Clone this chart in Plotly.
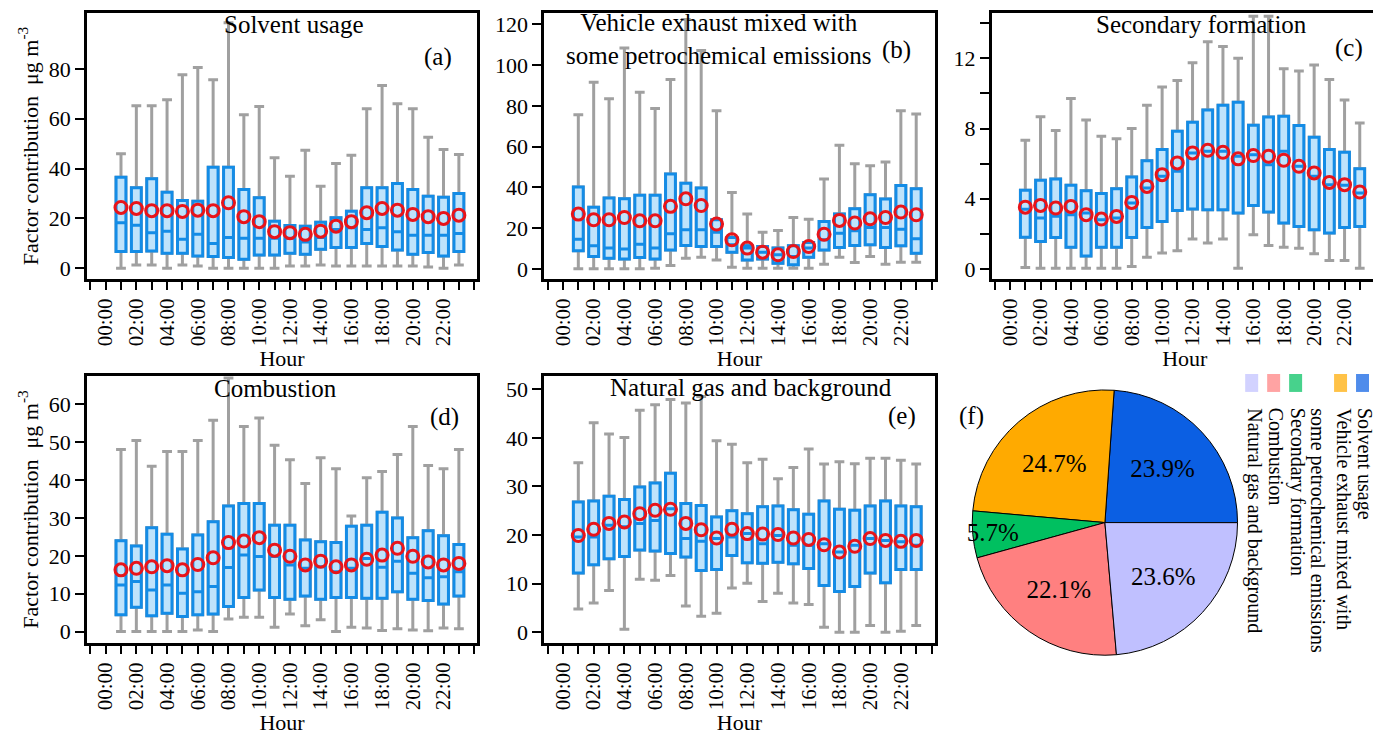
import plotly.graph_objects as go

# ---------------- data ----------------
hours = list(range(1, 24))
tick_vals = [0, 2, 4, 6, 8, 10, 12, 14, 16, 18, 20, 22]
tick_labels = ["00:00", "02:00", "04:00", "06:00", "08:00", "10:00",
               "12:00", "14:00", "16:00", "18:00", "20:00", "22:00"]

# (a) Solvent usage
a_hi = [45.9, 65.2, 65.2, 67.6, 77.6, 80.5, 75.6, 98.5, 61.6, 64.9, 44.3, 36.9, 47.3, 32.9, 42.0, 45.3, 64.0, 73.3, 66.0, 64.0, 52.5, 47.6, 45.6]
a_q3 = [36.5, 32.3, 35.9, 30.5, 27.2, 26.9, 40.5, 40.5, 31.6, 28.3, 18.9, 17.2, 16.9, 18.5, 20.3, 22.9, 32.3, 32.3, 34.0, 31.6, 28.9, 28.5, 30.0]
a_med = [18.3, 17.3, 14.3, 14.9, 11.6, 13.6, 9.9, 12.3, 12.0, 12.0, 12.0, 12.0, 10.5, 12.3, 15.6, 16.3, 15.6, 16.3, 14.7, 13.2, 13.2, 13.2, 14.0]
a_q1 = [6.7, 6.7, 6.9, 6.0, 6.0, 4.9, 4.7, 4.3, 3.6, 5.3, 5.3, 6.0, 5.6, 7.6, 8.3, 8.3, 9.9, 8.7, 7.3, 5.6, 6.3, 4.9, 6.7]
a_lo = [0.0, 1.3, 1.3, 0.0, 1.3, 0.9, 0.0, 0.0, 0.0, 0.0, 0.0, 0.9, 0.9, 1.3, 0.9, 0.9, 0.9, 0.9, 0.9, 0.9, 0.5, 0.0, 1.3]
a_mean = [24.4, 24.0, 23.1, 23.1, 22.8, 23.3, 23.1, 26.3, 20.7, 18.7, 14.7, 14.3, 13.6, 14.9, 16.9, 18.7, 22.3, 24.0, 23.3, 21.6, 20.7, 20.0, 21.3]

# (b) Vehicle exhaust
b_hi = [75.7, 91.6, 83.6, 108.5, 86.7, 78.7, 93.0, 122.5, 107.2, 77.7, 37.5, 26.9, 18.0, 18.9, 25.2, 24.4, 44.1, 60.7, 51.6, 50.7, 52.5, 77.7, 76.0]
b_q3 = [40.2, 30.3, 34.8, 34.4, 36.1, 36.1, 46.6, 42.1, 39.7, 24.1, 15.4, 11.3, 11.0, 10.2, 11.3, 13.0, 23.3, 26.9, 29.5, 36.4, 34.3, 41.0, 39.3]
b_med = [14.6, 11.3, 10.2, 9.7, 12.1, 10.2, 17.2, 19.2, 19.2, 18.0, 11.8, 10.2, 8.2, 6.9, 6.1, 10.2, 14.3, 17.5, 18.7, 20.3, 20.3, 19.5, 14.8]
b_q1 = [8.9, 6.1, 5.2, 4.8, 5.6, 4.9, 9.3, 11.5, 11.0, 11.0, 8.2, 4.4, 4.8, 2.8, 2.0, 5.7, 9.3, 10.5, 11.5, 11.8, 10.5, 11.3, 7.7]
b_lo = [0.0, 0.0, 0.0, 0.0, 0.0, 0.3, 1.6, 5.2, 5.7, 4.4, 0.8, 0.3, 0.3, 0.3, 0.3, 0.3, 2.3, 5.7, 3.1, 6.1, 2.3, 3.3, 3.3]
b_mean = [26.9, 24.1, 24.1, 25.2, 23.6, 23.6, 30.7, 34.4, 31.1, 22.0, 14.3, 10.2, 8.2, 6.9, 8.5, 11.0, 17.0, 23.8, 22.5, 24.6, 25.2, 27.9, 26.6]

# (c) Secondary formation
c_hi = [7.33, 8.67, 7.89, 9.71, 8.48, 7.56, 7.41, 8.0, 9.33, 10.36, 10.74, 11.75, 12.95, 12.67, 12.0, 14.4, 14.4, 11.41, 11.28, 11.62, 10.8, 9.62, 8.32]
c_q3 = [4.48, 5.05, 5.12, 4.76, 4.46, 4.29, 4.57, 5.24, 6.17, 6.8, 7.85, 8.36, 9.05, 9.33, 9.5, 8.19, 8.65, 8.7, 8.17, 7.5, 6.8, 6.65, 5.71]
c_med = [3.4, 2.9, 3.0, 3.09, 3.18, 2.8, 2.9, 3.75, 4.61, 5.28, 5.56, 6.61, 6.7, 6.7, 6.42, 6.51, 5.94, 6.7, 5.85, 5.28, 4.8, 4.76, 4.32]
c_q1 = [1.81, 1.56, 1.79, 1.24, 0.74, 1.24, 1.24, 1.79, 2.36, 2.7, 3.33, 3.41, 3.37, 3.37, 3.18, 3.62, 3.24, 2.61, 2.42, 2.23, 2.04, 2.36, 2.42]
c_lo = [0.08, 0.04, 0.04, 0.04, 0.04, 0.04, 0.04, 0.13, 0.67, 0.9, 1.03, 1.7, 1.47, 1.7, 0.04, 1.94, 1.33, 1.24, 1.18, 0.86, 0.48, 0.48, 0.04]
c_mean = [3.52, 3.62, 3.47, 3.56, 3.09, 2.84, 2.99, 3.79, 4.7, 5.37, 6.04, 6.61, 6.76, 6.65, 6.27, 6.46, 6.42, 6.19, 5.85, 5.47, 4.93, 4.8, 4.38]

# (d) Combustion
d_hi = [48.1, 50.5, 43.7, 47.6, 47.6, 50.5, 55.8, 67.0, 54.2, 56.4, 49.2, 45.4, 39.1, 45.9, 43.0, 30.5, 40.6, 42.3, 46.8, 54.2, 43.9, 43.0, 48.1]
d_q3 = [24.0, 22.6, 27.4, 25.7, 21.8, 25.5, 29.0, 33.2, 33.8, 33.8, 28.1, 28.1, 24.2, 23.7, 23.5, 27.8, 28.1, 31.5, 30.0, 24.8, 26.6, 25.3, 23.0]
d_med = [12.3, 13.2, 11.0, 12.3, 10.1, 10.5, 11.9, 16.9, 20.2, 19.8, 19.8, 17.6, 16.7, 17.1, 15.8, 16.7, 19.3, 17.0, 18.6, 15.4, 14.2, 14.5, 15.8]
d_q1 = [4.4, 6.4, 4.2, 4.8, 4.0, 4.4, 4.6, 6.6, 9.0, 11.0, 9.0, 8.5, 9.4, 8.5, 9.0, 9.0, 8.8, 8.8, 10.5, 8.5, 8.2, 7.3, 9.4]
d_lo = [0.0, 0.0, 0.0, 0.0, 0.0, 0.4, 0.0, 3.3, 3.8, 3.8, 1.1, 4.6, 1.5, 3.1, 0.0, 1.1, 0.9, 0.3, 0.7, 0.4, 0.2, 0.9, 0.7]
d_mean = [16.3, 16.7, 17.1, 17.4, 16.3, 17.7, 19.5, 23.5, 23.9, 24.8, 21.5, 19.9, 17.6, 18.6, 17.1, 17.6, 19.1, 20.2, 22.0, 19.9, 18.4, 17.6, 18.0]

# (e) Natural gas and background
e_hi = [34.9, 43.1, 40.8, 40.1, 45.7, 46.8, 47.9, 47.2, 48.5, 39.4, 38.7, 34.9, 35.6, 31.6, 33.9, 37.7, 34.6, 35.1, 34.7, 35.8, 35.8, 35.4, 34.6]
e_q3 = [26.8, 27.0, 28.0, 27.3, 29.9, 30.7, 32.7, 26.5, 26.1, 23.7, 25.0, 24.4, 25.8, 26.0, 25.2, 24.3, 27.0, 25.3, 25.1, 26.0, 27.0, 26.0, 25.8]
e_med = [19.6, 19.6, 22.0, 21.7, 22.4, 23.0, 25.4, 19.3, 18.7, 19.3, 19.6, 20.3, 18.2, 19.9, 17.9, 17.9, 18.2, 16.5, 17.9, 19.3, 18.9, 18.6, 17.9]
e_q1 = [12.2, 13.9, 15.1, 15.6, 16.9, 16.7, 16.2, 15.5, 12.7, 12.9, 15.8, 14.3, 14.2, 14.4, 14.1, 13.1, 9.6, 8.4, 9.4, 12.2, 10.2, 12.9, 12.9]
e_lo = [4.8, 6.0, 8.6, 0.6, 10.9, 10.7, 11.7, 5.4, 3.3, 3.9, 9.1, 10.1, 6.3, 8.0, 6.0, 5.7, 1.0, 0.0, 0.0, 1.4, 0.0, 0.2, 1.4]
e_mean = [19.9, 21.2, 22.4, 22.7, 24.4, 25.1, 25.3, 22.4, 21.1, 19.4, 21.2, 20.3, 20.2, 20.1, 19.4, 19.1, 18.0, 16.5, 17.7, 19.3, 18.9, 18.7, 18.9]

# (f) pie
pie_labels = ["Solvent usage", "Vehicle exhaust mixed with<br>some petrochemical emissions",
              "Secondary formation", "Combustion", "Natural gas and background"]
pie_values = [23.9, 24.7, 5.7, 22.1, 23.6]
pie_colors = ["#0b5fe3", "#ffaa00", "#00c060", "#ff8080", "#c0c0ff"]

panel_titles = ["Solvent usage", "Vehicle exhaust mixed with<br>some petrochemical emissions",
                "Secondary formation", "Combustion", "Natural gas and background"]
panel_letters = ["(a)", "(b)", "(c)", "(d)", "(e)", "(f)"]

# ---------------- style ----------------
# the page body adds an 8 px margin, so the figure is drawn 8 px smaller
# and all positions below are given in screenshot pixels
OFF = 8
W, H = 1381 - OFF, 738 - OFF
FONT = "Liberation Serif, Times New Roman, serif"
GRAY = "#a0a0a0"
BLUE = "#148ce6"
FILL = "#bfe3fb"
RED = "#e8141a"

def px(x):
    return (x - OFF) / W

def py(y):
    return 1 - (y - OFF) / H

fig = go.Figure()

panels = [
    (a_lo, a_q1, a_med, a_q3, a_hi, a_mean),
    (b_lo, b_q1, b_med, b_q3, b_hi, b_mean),
    (c_lo, c_q1, c_med, c_q3, c_hi, c_mean),
    (d_lo, d_q1, d_med, d_q3, d_hi, d_mean),
    (e_lo, e_q1, e_med, e_q3, e_hi, e_mean),
]

for i, (lo, q1, med, q3, hi, mean) in enumerate(panels):
    xa = "x" if i == 0 else f"x{i+1}"
    ya = "y" if i == 0 else f"y{i+1}"
    fig.add_trace(go.Box(x=hours, q1=q1, median=med, q3=q3, lowerfence=lo, upperfence=hi,
                         xaxis=xa, yaxis=ya, width=0.64, whiskerwidth=1,
                         line=dict(color=GRAY, width=3), fillcolor=FILL,
                         boxpoints=False, showlegend=False, hoverinfo="skip"))
    fig.add_trace(go.Box(x=hours, q1=q1, median=med, q3=q3, lowerfence=q1, upperfence=q3,
                         xaxis=xa, yaxis=ya, width=0.64, whiskerwidth=0,
                         line=dict(color=BLUE, width=3), fillcolor=FILL,
                         boxpoints=False, showlegend=False, hoverinfo="skip"))
    fig.add_trace(go.Scatter(x=hours, y=mean, mode="markers", xaxis=xa, yaxis=ya,
                             marker=dict(symbol="circle-open", size=12, color=RED,
                                         line=dict(width=3, color=RED)),
                             showlegend=False, hoverinfo="skip"))

fig.add_trace(go.Pie(values=pie_values, labels=pie_labels, sort=False,
                     direction="counterclockwise", rotation=4,
                     marker=dict(colors=pie_colors, line=dict(color="black", width=1)),
                     texttemplate="%{value:.1f}%", textposition="inside",
                     insidetextorientation="horizontal",
                     textfont=dict(family=FONT, size=25, color="black"),
                     domain=dict(x=[px(973), px(1240)], y=[py(657), py(391)]),
                     showlegend=False, hoverinfo="skip"))

x_domains = [(87, 478), (545, 936), (993, 1380), (87, 478), (545, 936)]
y_domains = [(12.7, 280), (12.7, 280), (12.7, 280), (376.7, 645), (376.7, 645)]
y_ranges = [(-4.4, 102.5), (-5.1, 125.8), (-0.59, 14.6), (-3.1, 67.6), (-2.27, 52.8)]
y_ticks = [[0, 20, 40, 60, 80], [0, 20, 40, 60, 80, 100, 120],
           [0, 4, 8, 12], [0, 10, 20, 30, 40, 50, 60], [0, 10, 20, 30, 40, 50]]

ytitle = "Factor contribution\u00a0\u00a0\u03bcg m<sup>-3</sup>"

layout = dict(width=W, height=H, margin=dict(l=0, r=0, t=0, b=0),
              paper_bgcolor="white", plot_bgcolor="white",
              font=dict(family=FONT, size=22, color="black"),
              boxmode="overlay", showlegend=False,
              uniformtext=dict(minsize=25, mode="show"))

for i in range(5):
    xk = "xaxis" if i == 0 else f"xaxis{i+1}"
    yk = "yaxis" if i == 0 else f"yaxis{i+1}"
    ya = "y" if i == 0 else f"y{i+1}"
    xa = "x" if i == 0 else f"x{i+1}"
    layout[xk] = dict(domain=[px(x_domains[i][0]), px(x_domains[i][1])], anchor=ya,
                      range=[-1.22, 24.2], tickmode="array", tickvals=tick_vals,
                      ticktext=tick_labels, tickangle=-90, ticks="outside", ticklen=8,
                      tickwidth=2, tickcolor="black", showline=True, linecolor="black",
                      linewidth=2.5, mirror=True, showgrid=False, zeroline=False,
                      minor=dict(ticks="outside", ticklen=8, tickwidth=2, tickcolor="black",
                                 tick0=0, dtick=1, showgrid=False),
                      tickfont=dict(size=21),
                      title=dict(text="Hour", font=dict(size=22), standoff=2))
    layout[yk] = dict(domain=[py(y_domains[i][1]), py(y_domains[i][0])], anchor=xa,
                      range=list(y_ranges[i]), tickmode="array", tickvals=y_ticks[i],
                      ticks="outside", ticklen=9, tickwidth=2,
                      tickcolor="black", showline=True, linecolor="black", linewidth=2.5,
                      mirror=True, showgrid=False, zeroline=False, tickfont=dict(size=22))
    if i == 2:
        layout[yk]["minor"] = dict(ticks="outside", ticklen=9, tickwidth=2, tickcolor="black",
                                   tick0=0, dtick=2, showgrid=False)
    if i in (0, 3):
        layout[yk]["title"] = dict(text=ytitle, font=dict(size=22), standoff=5)

annotations = []
title_pos = [(294, 25), (720, 39), (1203, 25), (276, 390), (752, 389)]
letter_pos = [(439, 57), (898, 50), (1351, 48), (445, 418), (903, 417), (973, 417)]
for t, (x, y) in zip(panel_titles, title_pos):
    annotations.append(dict(text=t, x=px(x), y=py(y), xref="paper", yref="paper",
                            xanchor="center", yanchor="middle", showarrow=False,
                            font=dict(size=25, family=FONT, color="black")))
for t, (x, y) in zip(panel_letters, letter_pos):
    annotations.append(dict(text=t, x=px(x), y=py(y), xref="paper", yref="paper",
                            xanchor="center", yanchor="middle", showarrow=False,
                            font=dict(size=25, family=FONT, color="black")))

# rotated legend for pie
legend_swatch_x = [1364.5, 1342.5, 1297.5, 1275.5, 1253.5]
legend_text_x = [1366, 1333, 1299, 1278, 1256]
shapes = []
for lab, col, sx, tx in zip(pie_labels, pie_colors, legend_swatch_x, legend_text_x):
    shapes.append(dict(type="rect", xref="paper", yref="paper",
                       x0=px(sx - 6.5), x1=px(sx + 6.5), y0=py(393), y1=py(375),
                       fillcolor=col, opacity=0.72, line=dict(width=0)))
    annotations.append(dict(text=lab, x=px(tx), y=py(407), xref="paper", yref="paper",
                            xanchor="center", yanchor="top", textangle=90, align="left",
                            showarrow=False,
                            font=dict(size=20, family=FONT, color="black")))

layout["annotations"] = annotations
layout["shapes"] = shapes
fig.update_layout(**layout)

fig.write_html("out.html")
